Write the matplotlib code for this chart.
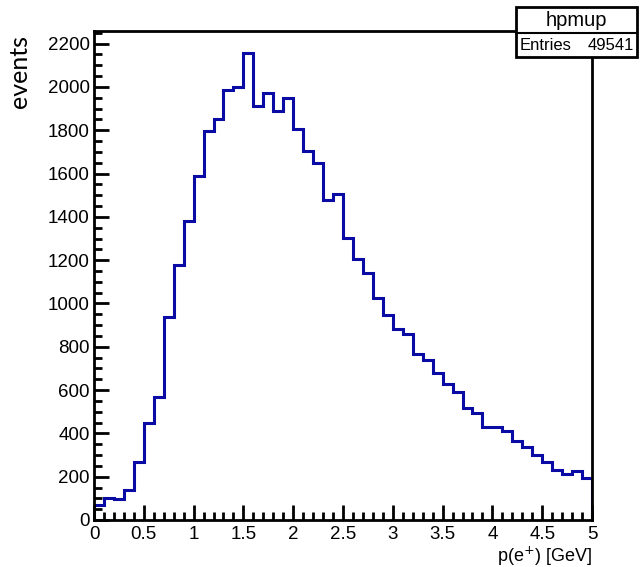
import matplotlib.pyplot as plt
import numpy as np
from matplotlib.ticker import MultipleLocator

# bin contents of hpmup, 50 bins of 0.1 GeV from 0 to 5 GeV
bin_edges = np.round(np.arange(0, 5.01, 0.1), 2)
counts = [
    69, 103, 95, 140, 269, 446, 570, 937, 1178, 1382,
    1587, 1797, 1851, 1986, 1998, 2155, 1912, 1974, 1891, 1948,
    1805, 1702, 1648, 1479, 1506, 1303, 1207, 1141, 1023, 945,
    880, 860, 765, 737, 677, 630, 589, 515, 492, 428,
    428, 409, 363, 338, 300, 269, 232, 212, 224, 194,
]
hist_name = "hpmup"
entries = 49541

fig = plt.figure(figsize=(6.43, 5.67), dpi=100)
ax = fig.add_axes([94 / 643, 1 - 520 / 567, 498 / 643, 489 / 567])

ax.stairs(counts, bin_edges, color="#0a0aa5", linewidth=2.2)

ax.set_xlim(0, 5)
ax.set_ylim(0, 1.048 * max(counts))

ax.xaxis.set_major_locator(MultipleLocator(0.5))
ax.xaxis.set_minor_locator(MultipleLocator(0.1))
ax.yaxis.set_major_locator(MultipleLocator(200))
ax.yaxis.set_minor_locator(MultipleLocator(50))
ax.xaxis.set_major_formatter(lambda v, p: f"{v:g}")

ax.tick_params(which="both", direction="in", top=False, right=False,
               width=2, colors="black", labelsize=13.5)
ax.tick_params(which="major", length=10.5)
ax.tick_params(which="minor", length=5.5)
ax.tick_params(axis="y", pad=3)
ax.tick_params(axis="x", pad=4)
for lab in ax.get_xticklabels() + ax.get_yticklabels():
    lab.set_family("Liberation Sans")

for s in ax.spines.values():
    s.set_linewidth(2)

fig.text(19 / 643, 1 - 35 / 567, "events", rotation=90, ha="center", va="top",
         fontsize=18, family="Lato")
fig.text(592 / 643, 1 - 556.5 / 567, "p(e$^{+}$) [GeV]", ha="right", va="center",
         fontsize=13, family="Liberation Sans")

# statistics box in the top right corner
x0, x1 = 516 / 643, 637 / 643
yt, ym, yb = 1 - 7 / 567, 1 - 33 / 567, 1 - 57 / 567
box = plt.Rectangle((x0, yb), x1 - x0, yt - yb, transform=fig.transFigure,
                    facecolor="white", edgecolor="black", linewidth=2, zorder=5)
fig.add_artist(box)
fig.add_artist(plt.Line2D([x0, x1], [ym, ym], transform=fig.transFigure,
                          color="black", linewidth=1.5, zorder=6))
fig.text((x0 + x1) / 2, (yt + ym) / 2, hist_name, ha="center", va="center",
         fontsize=14.5, family="Liberation Sans", zorder=7)
fig.text(x0 + 4 / 643, (ym + yb) / 2, "Entries", ha="left", va="center",
         fontsize=12, family="Liberation Sans", zorder=7)
fig.text(x1 - 3 / 643, (ym + yb) / 2, f"{entries}", ha="right", va="center",
         fontsize=12, family="Liberation Sans", zorder=7)

fig.savefig("out.png", dpi=100)
